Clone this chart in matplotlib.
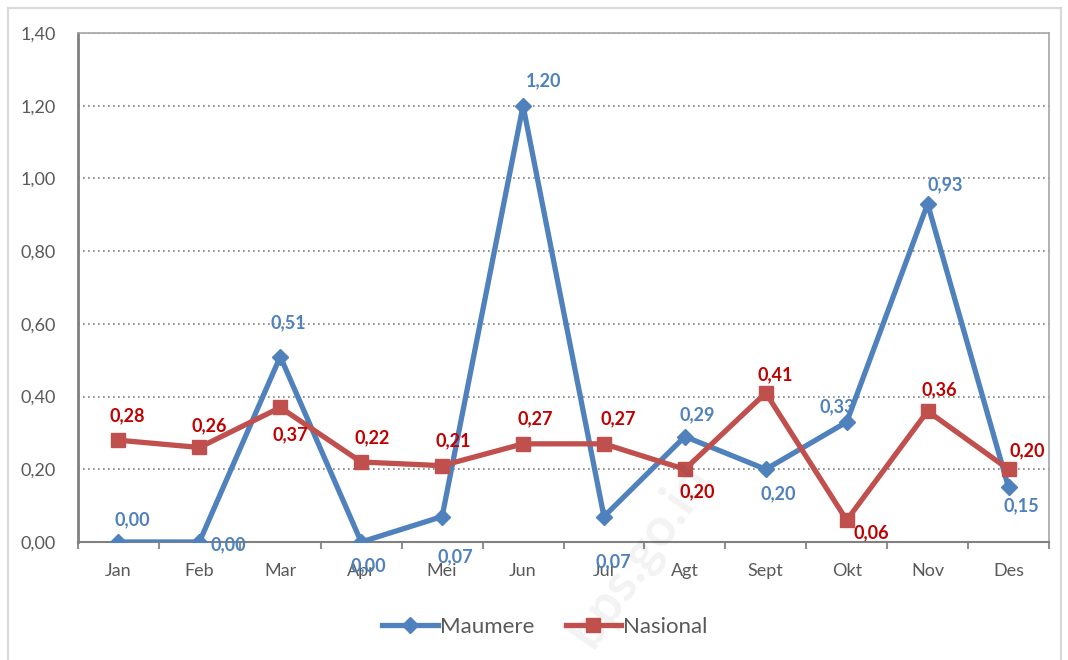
import matplotlib
matplotlib.use("Agg")
from matplotlib import pyplot as plt
from matplotlib.patches import Rectangle
from matplotlib.ticker import FuncFormatter

# data
months = ["Jan", "Feb", "Mar", "Apr", "Mei", "Jun", "Jul", "Agt", "Sept", "Okt", "Nov", "Des"]
maumere = [0.00, 0.00, 0.51, 0.00, 0.07, 1.20, 0.07, 0.29, 0.20, 0.33, 0.93, 0.15]
nasional = [0.28, 0.26, 0.37, 0.22, 0.21, 0.27, 0.27, 0.20, 0.41, 0.06, 0.36, 0.20]

# label offsets in pixels (dx, dy)
maumere_off = [(14, 22), (29, -3), (8, 34), (7, -24), (13, -40), (21, 25),
               (9, -45), (12, 22), (12, -24), (-9, 15), (18, 19), (13, -18)]
nasional_off = [(9, 24), (10, 22), (10, -27), (11, 24), (11, 25), (12, 25),
                (14, 25), (12, -22), (9, 18), (25, -13), (12, 21), (19, 19)]

blue = "#4F81BD"
red = "#C0504D"
blue_txt = "#4F81BD"
red_txt = "#C00000"

plt.rcParams['font.family'] = ['Lato', 'DejaVu Sans']

fig = plt.figure(figsize=(10.68, 6.6), dpi=100)
ax = fig.add_axes([78 / 1068, 1 - 542 / 660, (1049 - 78) / 1068, (542 - 33) / 660])

# outer chart border
fig.patches.append(Rectangle((8 / 1068, -0.01), (1061 - 8) / 1068, 1 - 8 / 660 + 0.01,
                             transform=fig.transFigure, fill=False,
                             edgecolor="#D9D9D9", linewidth=1.5))

x = list(range(len(months)))
ax.plot(x, maumere, color=blue, linewidth=3.8, marker="D", markersize=8,
        label="Maumere", zorder=3)
ax.plot(x, nasional, color=red, linewidth=3.8, marker="s", markersize=10.5,
        label="Nasional", zorder=4)

for i in x:
    ax.annotate(f"{maumere[i]:.2f}".replace(".", ","), (i, maumere[i]),
                xytext=maumere_off[i], textcoords="offset pixels",
                ha="center", va="center", color=blue_txt, fontsize=13,
                fontweight="bold", zorder=5)
    ax.annotate(f"{nasional[i]:.2f}".replace(".", ","), (i, nasional[i]),
                xytext=nasional_off[i], textcoords="offset pixels",
                ha="center", va="center", color=red_txt, fontsize=13,
                fontweight="bold", zorder=5)

ax.set_xlim(-0.5, 11.5)
ax.set_ylim(0, 1.4)
ax.set_yticks([0, 0.2, 0.4, 0.6, 0.8, 1.0, 1.2, 1.4])
ax.yaxis.set_major_formatter(FuncFormatter(lambda v, p: f"{v:.2f}".replace(".", ",")))
ax.set_xticks(x)
ax.set_xticklabels(months)
ax.set_xticks([i + 0.5 for i in range(-1, 12)], minor=True)
ax.tick_params(axis="x", which="major", length=0, labelsize=13, colors="#595959", pad=15)
ax.tick_params(axis="x", which="minor", length=5, width=1.5, color="#909090")
ax.tick_params(axis="y", length=0, labelsize=13, colors="#595959", pad=16)

ax.grid(axis="y", linestyle=(0, (1, 2)), color="#808080", linewidth=1.2)
ax.set_axisbelow(True)
for s in ["top", "right"]:
    ax.spines[s].set_color("#A6A6A6")
    ax.spines[s].set_linewidth(1.2)
ax.spines["left"].set_color("#808080")
ax.spines["left"].set_linewidth(2)
ax.spines["bottom"].set_color("#808080")
ax.spines["bottom"].set_linewidth(1.5)
ax.spines["bottom"].set_linestyle((0, (1, 1)))

leg = fig.legend(loc="center", bbox_to_anchor=(545 / 1068, 1 - 627 / 660), ncol=2,
                 frameon=False, fontsize=16, handlelength=2.5, columnspacing=1.4,
                 handletextpad=0.1)
for t in leg.get_texts():
    t.set_color("#595959")

# faint watermark
fig.text(640 / 1068, 1 - 555 / 660, "bps.go.id", rotation=55, fontsize=38,
         color="#000000", alpha=0.05, ha="center", va="center", fontweight="bold")

fig.savefig("out.png", dpi=100, facecolor="white")
